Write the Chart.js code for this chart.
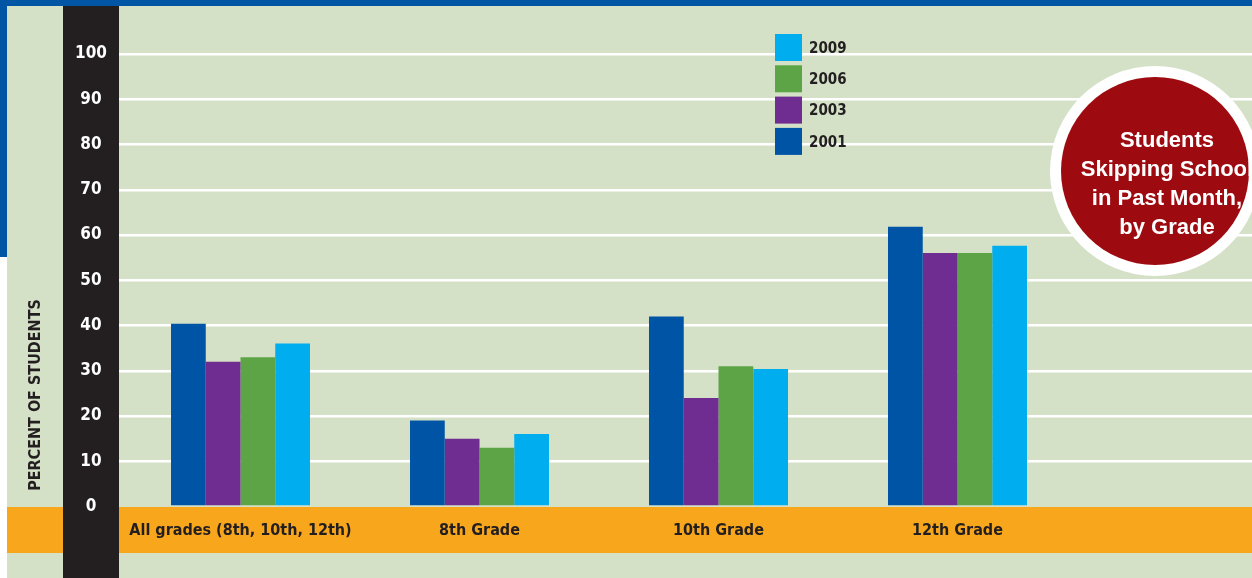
<!DOCTYPE html>
<html>
<head>
<meta charset="utf-8">
<script src="https://cdn.jsdelivr.net/npm/chart.js@4"></script>
<style>
html, body { margin: 0; padding: 0; overflow: hidden; background: #ffffff; }
#wrap { position: relative; width: 1320px; height: 578px; }
</style>
</head>
<body>
<div id="wrap"><canvas id="c"></canvas></div>
<script>
// ---- data ----
const categories = ['All grades (8th, 10th, 12th)', '8th Grade', '10th Grade', '12th Grade'];
const years = ['2001', '2003', '2006', '2009'];
const values2001 = [40.4, 19, 42, 61.8];
const values2003 = [32, 15, 24, 56];
const values2006 = [33, 13, 31, 56];
const values2009 = [36, 16, 30.4, 57.6];
const yTickValues = [0, 10, 20, 30, 40, 50, 60, 70, 80, 90, 100];
const yAxisTitle = 'PERCENT OF STUDENTS';
const titleLines = ['Students', 'Skipping School', 'in Past Month,', 'by Grade'];

// ---- styles ----
const seriesColors = ['#0054a6', '#6f2c91', '#5da446', '#00aeef'];
const NARROW = "'Liberation Sans Narrow', 'DejaVu Sans Condensed', 'Arial Narrow', sans-serif";
const WIDE = "'Liberation Sans', Arial, Helvetica, sans-serif";
const DARK = '#231f20';
const GREEN_BG = '#d4e1c6';
const BLUE = '#0055a5';
const ORANGE = '#f8a61c';
const RED = '#9d0b10';

// measure y tick label width to center labels at x ~ 91
const mctx = document.createElement('canvas').getContext('2d');
mctx.font = 'bold 17px ' + NARROW;
const widest = mctx.measureText('100').width;
const yTickPadding = Math.max(0, 121 - 2 - 91 - widest / 2);

const seriesValues = [values2001, values2003, values2006, values2009];

const backgroundPlugin = {
  id: 'bg',
  beforeDraw(chart) {
    const { ctx, width, height } = chart;
    ctx.save();
    ctx.fillStyle = '#ffffff';
    ctx.fillRect(0, 0, width, height);
    ctx.fillStyle = BLUE;
    ctx.fillRect(0, 0, width, 6);
    ctx.fillRect(0, 0, 7, 257);
    ctx.fillStyle = GREEN_BG;
    ctx.fillRect(7, 6, width - 7, height - 6);
    ctx.fillStyle = ORANGE;
    ctx.fillRect(7, 507, width - 7, 46);
    ctx.fillStyle = DARK;
    ctx.fillRect(63, 6, 56, height - 6);
    // y axis title
    ctx.translate(36, 395);
    ctx.rotate(-Math.PI / 2);
    ctx.fillStyle = DARK;
    ctx.font = 'bold 16px ' + NARROW;
    ctx.textAlign = 'center';
    ctx.textBaseline = 'middle';
    ctx.fillText(yAxisTitle, 0, 0);
    ctx.restore();
  }
};

const overlayPlugin = {
  id: 'overlay',
  afterDraw(chart) {
    const { ctx } = chart;
    ctx.save();
    // legend (reverse order, 2009 on top)
    const ds = chart.data.datasets;
    ctx.font = 'bold 15px ' + NARROW;
    ctx.textAlign = 'left';
    ctx.textBaseline = 'middle';
    for (let k = 0; k < ds.length; k++) {
      const d = ds[ds.length - 1 - k];
      const y = 34 + k * 31.3;
      ctx.fillStyle = d.backgroundColor;
      ctx.fillRect(775, y, 27, 27);
      ctx.fillStyle = DARK;
      ctx.fillText(d.label, 809, y + 15);
    }
    // title badge
    ctx.beginPath();
    ctx.arc(1155, 171, 105, 0, Math.PI * 2);
    ctx.fillStyle = '#ffffff';
    ctx.fill();
    ctx.beginPath();
    ctx.arc(1155, 171, 94, 0, Math.PI * 2);
    ctx.fillStyle = RED;
    ctx.fill();
    ctx.fillStyle = '#ffffff';
    ctx.font = 'bold 22px ' + WIDE;
    ctx.textAlign = 'center';
    ctx.textBaseline = 'middle';
    titleLines.forEach((t, i) => ctx.fillText(t, 1167, 141 + i * 29));
    ctx.restore();
  }
};

new Chart(document.getElementById('c'), {
  type: 'bar',
  data: {
    labels: [...categories, ''],
    datasets: years.map((yr, i) => ({
      label: yr,
      data: seriesValues[i],
      backgroundColor: seriesColors[i],
      borderWidth: 0,
      barPercentage: 1,
      categoryPercentage: 139 / 239
    }))
  },
  options: {
    responsive: true,
    maintainAspectRatio: false,
    devicePixelRatio: 1,
    animation: false,
    events: [],
    layout: { padding: { top: 54, right: 4, bottom: 0, left: 0 } },
    plugins: { legend: { display: false }, tooltip: { enabled: false }, title: { display: false } },
    scales: {
      x: {
        grid: { display: false, drawTicks: false },
        border: { display: false },
        ticks: {
          autoSkip: false, maxRotation: 0, minRotation: 0,
          padding: 15,
          color: DARK,
          font: { family: NARROW, size: 16, weight: 'bold' }
        },
        afterFit(s) { s.height = 71.5; }
      },
      y: {
        min: 0, max: 100,
        afterBuildTicks(s) { s.ticks = yTickValues.map(v => ({ value: v })); },
        grid: {
          color: c => (c.tick && c.tick.value === 0) ? 'rgba(0,0,0,0)' : '#ffffff',
          lineWidth: 2.5,
          drawTicks: true,
          tickLength: 2
        },
        border: { display: false },
        ticks: {
          crossAlign: 'center',
          padding: yTickPadding,
          color: '#ffffff',
          font: { family: NARROW, size: 17, weight: 'bold' }
        },
        afterFit(s) { s.width = 121; }
      }
    }
  },
  plugins: [backgroundPlugin, overlayPlugin]
});
</script>
</body>
</html>
